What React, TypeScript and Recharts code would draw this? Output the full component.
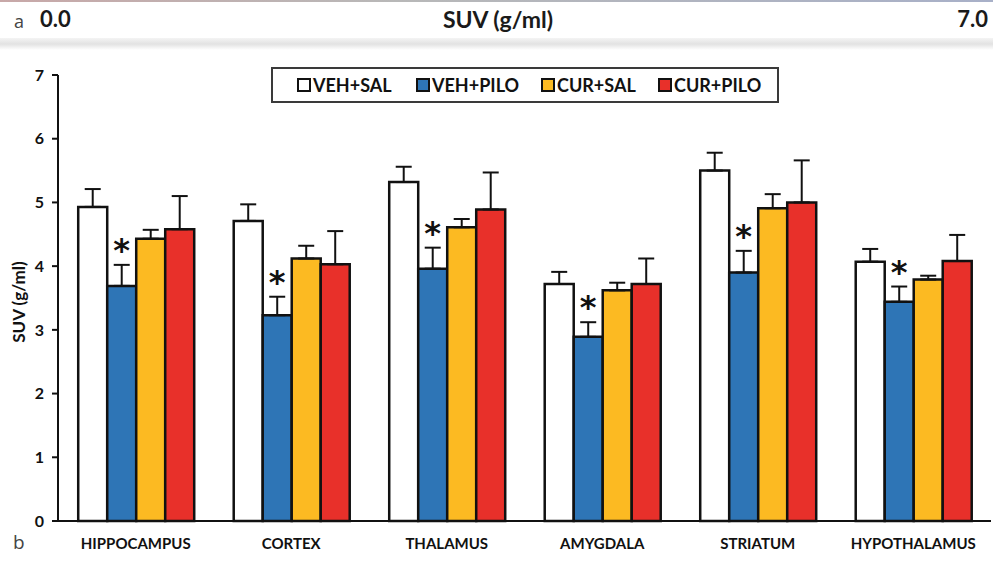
import React from 'react';
import { BarChart, Bar, XAxis, YAxis, ErrorBar, Rectangle } from 'recharts';

const categories = ['HIPPOCAMPUS', 'CORTEX', 'THALAMUS', 'AMYGDALA', 'STRIATUM', 'HYPOTHALAMUS'];
const vehSal = [4.93, 4.71, 5.32, 3.72, 5.5, 4.07];
const vehSalErr = [0.28, 0.26, 0.24, 0.19, 0.28, 0.2];
const vehPilo = [3.69, 3.23, 3.96, 2.89, 3.9, 3.44];
const vehPiloErr = [0.33, 0.29, 0.33, 0.23, 0.34, 0.24];
const curSal = [4.43, 4.12, 4.61, 3.62, 4.91, 3.79];
const curSalErr = [0.14, 0.2, 0.13, 0.12, 0.22, 0.06];
const curPilo = [4.58, 4.03, 4.89, 3.72, 5.0, 4.08];
const curPiloErr = [0.52, 0.52, 0.58, 0.4, 0.66, 0.41];

const seriesKeys = ['vehSal', 'vehPilo', 'curSal', 'curPilo'];
const seriesNames = ['VEH+SAL', 'VEH+PILO', 'CUR+SAL', 'CUR+PILO'];
const seriesColors = ['#FFFFFF', '#2E75B6', '#FCBA22', '#E8302A'];
const yTicks = [0, 1, 2, 3, 4, 5, 6, 7];
const axisTitle = 'SUV (g/ml)';
const scaleMin = '0.0';
const scaleMax = '7.0';

const data = categories.map((c, i) => ({
  region: c,
  vehSal: vehSal[i],
  vehSalErr: [0, vehSalErr[i]],
  vehPilo: vehPilo[i],
  vehPiloErr: [0, vehPiloErr[i]],
  curSal: curSal[i],
  curSalErr: [0, curSalErr[i]],
  curPilo: curPilo[i],
  curPiloErr: [0, curPiloErr[i]],
}));

const FONT = 'Lato, "Open Sans", sans-serif';

const StarBar = (props: any) => {
  const { x, y, width, height, payload } = props;
  const v = payload.vehPilo;
  const e = payload.vehPiloErr[1];
  const top = y - (e * height) / v;
  return (
    <g>
      <Rectangle {...props} />
      <text
        x={x + width / 2}
        y={top - 4}
        textAnchor="middle"
        fontSize={32}
        fontWeight="bold"
        fontFamily="DejaVu Sans"
        fill="#111"
      >
        *
      </text>
    </g>
  );
};

const legendX = [24, 143, 268, 385];

export default function App() {
  return (
    <div
      style={{
        position: 'absolute',
        left: 0,
        top: 0,
        width: 993,
        height: 562,
        background: '#fff',
        overflow: 'hidden',
        fontFamily: FONT,
      }}
    >
      {/* top strip (panel a) */}
      <div
        style={{
          position: 'absolute',
          left: 0,
          top: 0,
          width: 993,
          height: 2,
          background: 'linear-gradient(to right, #c8a8a8, #b8b8b8 40%, #a8b0c8)',
        }}
      />
      <div
        style={{
          position: 'absolute',
          left: 0,
          top: 38,
          width: 993,
          height: 12,
          background: 'linear-gradient(to bottom, #f4f4f4, #e2e2e2 50%, #ffffff)',
        }}
      />
      <div style={{ position: 'absolute', left: 14, top: 9, fontSize: 18, color: '#444', fontFamily: '"Open Sans", sans-serif' }}>a</div>
      <div style={{ position: 'absolute', left: 40, top: 5, fontSize: 22, fontWeight: 700, color: '#1a1a1a' }}>{scaleMin}</div>
      <div
        style={{
          position: 'absolute',
          left: 398,
          width: 200,
          textAlign: 'center',
          top: 5,
          fontSize: 23,
          fontWeight: 700,
          color: '#1a1a1a',
        }}
      >
        {axisTitle}
      </div>
      <div style={{ position: 'absolute', right: 5, top: 5, fontSize: 22, fontWeight: 700, color: '#1a1a1a' }}>{scaleMax}</div>
      <div style={{ position: 'absolute', left: 13, top: 529, fontSize: 19, color: '#444', fontFamily: '"Open Sans", sans-serif' }}>b</div>

      <div style={{ position: 'absolute', left: 0, top: 0 }}>
        <BarChart
          width={993}
          height={562}
          data={data}
          margin={{ top: 75, right: 2, bottom: 11, left: 8 }}
          barCategoryGap="13%"
          barGap={0}
        >
          <XAxis
            dataKey="region"
            height={30}
            axisLine={{ stroke: '#111', strokeWidth: 2 }}
            tickLine={false}
            tickSize={0}
            tickMargin={17}
            tick={{ fontSize: 15, fontWeight: 700, fill: '#111', fontFamily: FONT }}
            interval={0}
          />
          <YAxis
            width={50}
            domain={[0, 7]}
            ticks={yTicks}
            interval={0}
            axisLine={{ stroke: '#111', strokeWidth: 2 }}
            tickLine={{ stroke: '#111', strokeWidth: 2 }}
            tickSize={6}
            tickMargin={8}
            tick={{ fontSize: 16, fontWeight: 700, fill: '#111', fontFamily: FONT }}
            label={{
              content: (p: any) => {
                const vb = p.viewBox || { x: 8, y: 75, width: 50, height: 446 };
                const cy = vb.y + vb.height / 2 + 4;
                const cx = 25;
                return (
                  <text
                    x={cx}
                    y={cy}
                    transform={`rotate(-90, ${cx}, ${cy})`}
                    textAnchor="middle"
                    fontSize={17}
                    fontWeight={700}
                    fill="#111"
                    fontFamily={FONT}
                  >
                    {axisTitle}
                  </text>
                );
              },
            }}
          />
          <Bar dataKey="vehSal" name={seriesNames[0]} fill={seriesColors[0]} stroke="#111" strokeWidth={2.5} isAnimationActive={false}>
            <ErrorBar dataKey="vehSalErr" direction="y" width={8} stroke="#111" strokeWidth={2} />
          </Bar>
          <Bar
            dataKey="vehPilo"
            name={seriesNames[1]}
            fill={seriesColors[1]}
            stroke="#111"
            strokeWidth={2.5}
            isAnimationActive={false}
            shape={StarBar}
          >
            <ErrorBar dataKey="vehPiloErr" direction="y" width={8} stroke="#111" strokeWidth={2} />
          </Bar>
          <Bar dataKey="curSal" name={seriesNames[2]} fill={seriesColors[2]} stroke="#111" strokeWidth={2.5} isAnimationActive={false}>
            <ErrorBar dataKey="curSalErr" direction="y" width={8} stroke="#111" strokeWidth={2} />
          </Bar>
          <Bar dataKey="curPilo" name={seriesNames[3]} fill={seriesColors[3]} stroke="#111" strokeWidth={2.5} isAnimationActive={false}>
            <ErrorBar dataKey="curPiloErr" direction="y" width={8} stroke="#111" strokeWidth={2} />
          </Bar>
        </BarChart>
      </div>

      {/* legend */}
      <div
        style={{
          position: 'absolute',
          left: 271,
          top: 67,
          width: 504,
          height: 32,
          border: '2px solid #3a3a3a',
          background: '#fff',
        }}
      >
        {seriesKeys.map((k, i) => (
          <div
            key={k}
            style={{
              position: 'absolute',
              left: legendX[i],
              top: 5,
              display: 'flex',
              alignItems: 'center',
              height: 22,
            }}
          >
            <span
              style={{
                display: 'inline-block',
                width: 10,
                height: 10,
                border: '2px solid #111',
                background: seriesColors[i],
                marginRight: 2,
              }}
            />
            <span style={{ fontSize: 18, fontWeight: 700, color: '#111' }}>{seriesNames[i]}</span>
          </div>
        ))}
      </div>
    </div>
  );
}
